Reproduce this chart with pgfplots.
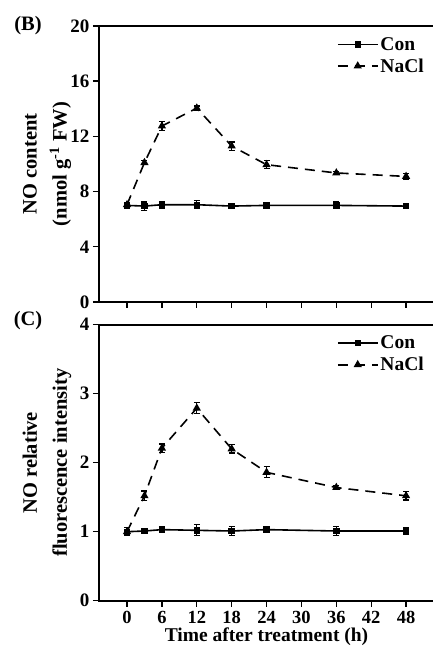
\documentclass[border=0pt]{standalone}
\usepackage{fontspec}
\setmainfont{Liberation Serif}
\usepackage{pgfplots}
\pgfplotsset{compat=1.18}

\pgfplotsset{
  panel/.style={
    scale only axis,
    width=335pt, height=276pt,
    xmin=-4.82, xmax=52.8,
    xtick={0,6,...,48},
    tick align=outside,
    tick pos=left,
    major tick length=6pt,
    axis line style={line width=1.6pt},
    every tick/.style={line width=1.4pt, black},
    font=\fontsize{19}{23}\selectfont\bfseries,
    /pgf/number format/assume math mode=true,
    ticklabel style={font=\fontsize{19}{23}\selectfont\bfseries},
    xticklabel style={inner sep=0pt, yshift=-4pt, font=\fontsize{18.5}{22}\selectfont\bfseries},
    ylabel style={at={(axis description cs:-0.155,0.5)}, anchor=center, align=center,
      font=\fontsize{20.5}{30}\selectfont\bfseries},
    xlabel style={at={(axis description cs:0.5,0)}, anchor=center, yshift=-36pt,
      inner sep=0pt, font=\fontsize{19.5}{24}\selectfont\bfseries},
    legend style={draw=none, fill=none, at={(0.985,0.975)}, anchor=north east,
      row sep=3pt, font=\fontsize{19.5}{23}\selectfont\bfseries},
    legend cell align=left,
    legend image code/.code={\draw[mark repeat=2,mark phase=2]
      plot coordinates {(0cm,0cm) (0.7cm,0cm) (1.4cm,0cm)};},
    error bars/y dir=both, error bars/y explicit,
    error bars/error bar style={line width=1.2pt, solid},
    error bars/error mark options={rotate=90, mark size=3pt, line width=1.2pt},
  },
  con/.style={black, line width=1.6pt, mark=square*, mark size=2.4pt, mark options={solid}},
  nacl/.style={black, line width=1.6pt, dash pattern=on 10pt off 7pt, mark=triangle*, mark size=3.2pt, mark options={solid}},
}

\begin{document}
\begin{tikzpicture}
\path[use as bounding box] (0,0) rectangle (432pt,646pt);

\begin{axis}[panel, at={(99pt,344pt)}, anchor=south west,
  ymin=0, ymax=20, ytick={0,4,...,20},
  xticklabels={},
  ylabel={NO content\\(nmol g\textsuperscript{-1} FW)}]
\addplot[con] coordinates {
  (0,7.0) +- (0,0.1)
  (3,6.95) +- (0,0.3)
  (6,7.05) +- (0,0.25)
  (12,7.05) +- (0,0.3)
  (18,6.95) +- (0,0.08)
  (24,7.0) +- (0,0.1)
  (36,7.0) +- (0,0.25)
  (48,6.95) +- (0,0.1)
};
\addplot[nacl] coordinates {
  (0,7.05) +- (0,0.1)
  (3,10.1) +- (0,0.15)
  (6,12.75) +- (0,0.35)
  (12,14.05) +- (0,0.15)
  (18,11.3) +- (0,0.3)
  (24,9.95) +- (0,0.3)
  (36,9.35) +- (0,0.1)
  (48,9.1) +- (0,0.2)
};
\legend{Con, NaCl}
\end{axis}

\begin{axis}[panel, at={(99pt,45.3pt)}, anchor=south west,
  ymin=0, ymax=4, ytick={0,1,2,3,4},
  xlabel={Time after treatment (h)},
  ylabel={NO relative\\fluorescence intensity}]
\addplot[con] coordinates {
  (0,1.0) +- (0,0.06)
  (3,1.01) +- (0,0.02)
  (6,1.03) +- (0,0.04)
  (12,1.02) +- (0,0.08)
  (18,1.01) +- (0,0.07)
  (24,1.03) +- (0,0.03)
  (36,1.01) +- (0,0.06)
  (48,1.01) +- (0,0.05)
};
\addplot[nacl] coordinates {
  (0,1.0) +- (0,0.03)
  (3,1.52) +- (0,0.07)
  (6,2.21) +- (0,0.06)
  (12,2.79) +- (0,0.08)
  (18,2.2) +- (0,0.06)
  (24,1.86) +- (0,0.08)
  (36,1.64) +- (0,0.03)
  (48,1.52) +- (0,0.06)
};
\legend{Con, NaCl}
\end{axis}

\node[font=\fontsize{20.5}{24}\selectfont\bfseries] at (28pt,620pt) {(B)};
\node[font=\fontsize{20.5}{24}\selectfont\bfseries] at (28pt,325pt) {(C)};
\end{tikzpicture}
\end{document}
